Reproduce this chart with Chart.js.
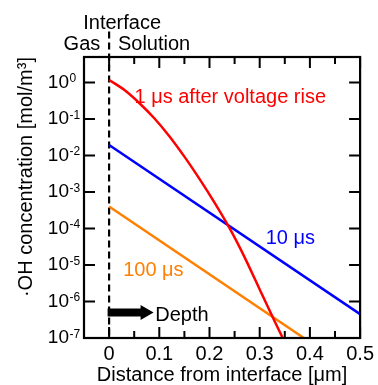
<!DOCTYPE html>
<html><head><meta charset="utf-8">
<script src="https://cdn.jsdelivr.net/npm/chart.js@4.4.1/dist/chart.umd.min.js"></script>
<style>html,body{margin:0;padding:0;background:#fff;overflow:hidden}</style>
</head><body>
<canvas id="c" width="378" height="385"></canvas>
<script>
// ---- data ----
const depth1us = [0, 0.03, 0.06, 0.09, 0.12, 0.15, 0.18, 0.21, 0.24, 0.27, 0.30, 0.33, 0.36];
const conc1us  = [1.175, 0.631, 0.275, 0.105, 0.0339, 0.00933, 0.00229, 5.13e-4, 1.02e-4, 1.62e-5, 2.14e-6, 2.82e-7, 3.98e-8];
const depth10us = [0, 0.5];
const conc10us  = [0.0195, 4.5e-7];
const depth100us = [0, 0.388];
const conc100us  = [4.0e-4, 1.0e-7];
const interfaceDepth = [0, 0];
const interfaceConc  = [25, 1e-7];

const xTickValues = [0, 0.1, 0.2, 0.3, 0.4, 0.5];
const xTickLabels = ['0', '0.1', '0.2', '0.3', '0.4', '0.5'];
const xMinorTickValues = [0.05, 0.15, 0.25, 0.35, 0.45];
const yTickValues = [1, 1e-1, 1e-2, 1e-3, 1e-4, 1e-5, 1e-6, 1e-7];
const yTickBase = '10';
const yTickExponents = ['0', '-1', '-2', '-3', '-4', '-5', '-6', '-7'];

const seriesNames  = ['1 \u03BCs after voltage rise', '10 \u03BCs', '100 \u03BCs'];
const seriesColors = ['#ff0000', '#0000ff', '#ff8000'];
const xTitle = 'Distance from interface [\u03BCm]';
const yTitle = '\u00B7OH concentration [mol/m\u00B3]';
const topLabels = ['Interface', 'Gas', 'Solution'];
const depthLabel = 'Depth';

const FONT = '"Liberation Sans", Arial, sans-serif';
const pts = (xs, ys) => xs.map((x, i) => ({x: x, y: ys[i]}));

const decor = {
  id: 'decor',
  afterDraw(chart) {
    const ctx = chart.ctx, a = chart.chartArea;
    const xs = chart.scales.x, ys = chart.scales.y;
    ctx.save();
    // ticks
    ctx.strokeStyle = '#000'; ctx.lineWidth = 2;
    ctx.beginPath();
    const tickX = (v, len) => {
      const p = xs.getPixelForValue(v);
      ctx.moveTo(p, a.bottom); ctx.lineTo(p, a.bottom - len);
      ctx.moveTo(p, a.top); ctx.lineTo(p, a.top + len);
    };
    xTickValues.forEach(v => tickX(v, 11));
    xMinorTickValues.forEach(v => tickX(v, 7));
    yTickValues.forEach(v => {
      const p = ys.getPixelForValue(v);
      ctx.moveTo(a.left, p); ctx.lineTo(a.left + 11, p);
      ctx.moveTo(a.right, p); ctx.lineTo(a.right - 11, p);
    });
    ctx.stroke();
    // frame
    ctx.lineWidth = 2.2;
    ctx.strokeRect(a.left, a.top, a.right - a.left, a.bottom - a.top);

    // exponents of the y tick labels
    ctx.fillStyle = '#000';
    ctx.font = '12px ' + FONT;
    ctx.textAlign = 'left';
    ctx.textBaseline = 'alphabetic';
    yTickValues.forEach((v, i) => {
      ctx.fillText(yTickExponents[i], a.left - 14.5, ys.getPixelForValue(v) - 0.5);
    });

    // series labels
    ctx.font = '20px ' + FONT;
    const lab = (t, c, x, y) => { ctx.fillStyle = c; ctx.fillText(t, xs.getPixelForValue(x), ys.getPixelForValue(y)); };
    lab(seriesNames[0], seriesColors[0], 0.0505, 2.7e-1);
    lab(seriesNames[1], seriesColors[1], 0.312, 3.8e-5);
    lab(seriesNames[2], seriesColors[2], 0.028, 5.1e-6);
    lab(depthLabel, '#000', 0.092, 3.0e-7);

    // arrow
    const ax0 = xs.getPixelForValue(0) - 1.5, ax1 = xs.getPixelForValue(0.0886);
    const ay = ys.getPixelForValue(5.0e-7);
    ctx.fillStyle = '#000';
    ctx.beginPath();
    ctx.moveTo(ax0, ay - 4);
    ctx.lineTo(ax1 - 13, ay - 4);
    ctx.lineTo(ax1 - 13, ay - 7.5);
    ctx.lineTo(ax1, ay);
    ctx.lineTo(ax1 - 13, ay + 7.5);
    ctx.lineTo(ax1 - 13, ay + 4);
    ctx.lineTo(ax0, ay + 4);
    ctx.closePath();
    ctx.fill();

    // labels above the plot
    ctx.fillStyle = '#000';
    ctx.textAlign = 'center';
    ctx.fillText(topLabels[0], xs.getPixelForValue(0.026), a.top - 28);
    ctx.textAlign = 'right';
    ctx.fillText(topLabels[1], xs.getPixelForValue(-0.0176), a.top - 7.5);
    ctx.textAlign = 'left';
    ctx.fillText(topLabels[2], xs.getPixelForValue(0.0176), a.top - 7.5);
    ctx.restore();
  }
};

new Chart(document.getElementById('c'), {
  type: 'line',
  data: {
    datasets: [
      {label: seriesNames[0], data: pts(depth1us, conc1us), borderColor: seriesColors[0], borderWidth: 2.5, pointRadius: 0, cubicInterpolationMode: 'monotone', fill: false},
      {label: seriesNames[1], data: pts(depth10us, conc10us), borderColor: seriesColors[1], borderWidth: 2.5, pointRadius: 0, fill: false},
      {label: seriesNames[2], data: pts(depth100us, conc100us), borderColor: seriesColors[2], borderWidth: 2.5, pointRadius: 0, fill: false},
      {label: 'Interface', data: pts(interfaceDepth, interfaceConc), borderColor: '#000', borderWidth: 2.2, borderDash: [7, 4], pointRadius: 0, fill: false, clip: false}
    ]
  },
  options: {
    responsive: false,
    animation: false,
    devicePixelRatio: 1,
    layout: {padding: {top: 57, right: 14, left: 0, bottom: 0}},
    plugins: {legend: {display: false}, tooltip: {enabled: false}},
    scales: {
      x: {
        type: 'linear', min: -0.05, max: 0.5,
        grid: {display: false, drawTicks: false}, border: {display: false},
        afterBuildTicks: s => { s.ticks = xTickValues.map(v => ({value: v})); },
        afterFit: s => { s.height = 47; },
        ticks: {color: '#000', padding: 4, maxRotation: 0, autoSkip: false,
          font: {family: FONT, size: 20},
          callback: (v, i) => xTickLabels[i]},
        title: {display: true, text: xTitle, color: '#000', font: {family: FONT, size: 20, lineHeight: 1}, padding: {top: 0, bottom: 0}}
      },
      y: {
        type: 'logarithmic', min: 1e-7, max: 5,
        grid: {display: false, drawTicks: false}, border: {display: false},
        afterBuildTicks: s => { s.ticks = yTickValues.map(v => ({value: v})); },
        afterFit: s => { s.width = 84; },
        ticks: {color: '#000', padding: 15, autoSkip: false,
          font: {family: FONT, size: 19},
          callback: () => yTickBase},
        title: {display: true, text: yTitle, align: 'end', color: '#000', font: {family: FONT, size: 20}, padding: {top: 14, bottom: 0}}
      }
    }
  },
  plugins: [decor]
});
</script>
</body></html>
